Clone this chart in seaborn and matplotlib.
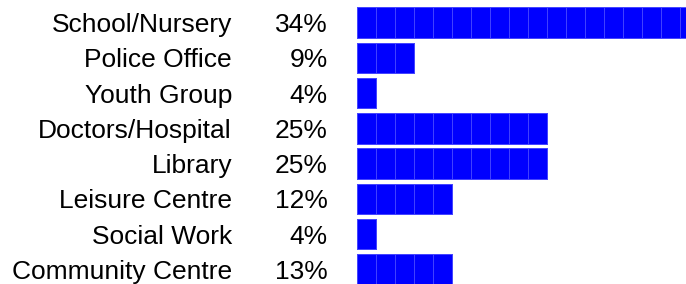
import matplotlib.pyplot as plt
import seaborn as sns
import pandas as pd
import numpy as np

categories = ["School/Nursery", "Police Office", "Youth Group", "Doctors/Hospital",
              "Library", "Leisure Centre", "Social Work", "Community Centre"]
percent = [34, 9, 4, 25, 25, 12, 4, 13]
# bar length as drawn, in blocks (the first bar runs off the edge)
blocks = [18, 3, 1, 10, 10, 5, 1, 5]

df = pd.DataFrame({"category": categories, "pct": percent, "blocks": blocks})

sns.set_style("white")
plt.rcParams['font.family'] = ['Liberation Sans', 'DejaVu Sans']
plt.rcParams['text.color'] = 'black'
plt.rcParams['ytick.color'] = 'black'
plt.rcParams['ytick.labelcolor'] = 'black'

fig = plt.figure(figsize=(6.86, 2.84), dpi=100)
# axes in pixels: x 357..686, rows centred 22.5..269.5
ax = fig.add_axes([357 / 686, 1 - 287.1 / 284, 329 / 686, (287.1 - 4.85) / 284])

# draw one layer per block, longest first, so each block edge stays visible
for k in range(max(blocks), 0, -1):
    layer = df.assign(len=np.minimum(df["blocks"], k))
    sns.barplot(data=layer, x="len", y="category", orient="h", ax=ax,
                color="#0000ff", saturation=1, width=0.86,
                edgecolor="#4d4dff", linewidth=0.6)

ax.set_xlim(0, 329 / 19)
ax.set_ylim(len(categories) - 0.5, -0.5)
ax.set_xlabel("")
ax.set_ylabel("")
ax.set_xticks([])
for s in ax.spines.values():
    s.set_visible(False)
ax.tick_params(axis="y", length=0, pad=90, labelsize=19, labelcolor="black")
for lab in ax.get_yticklabels():
    lab.set_verticalalignment("center_baseline")

for i, p in enumerate(percent):
    ax.annotate(f"{p}%", xy=(0, i), xycoords=("axes fraction", "data"),
                xytext=(-21, 0), textcoords="offset points",
                ha="right", va="center_baseline", fontsize=19, color="black")

fig.savefig("out.png", dpi=100)
